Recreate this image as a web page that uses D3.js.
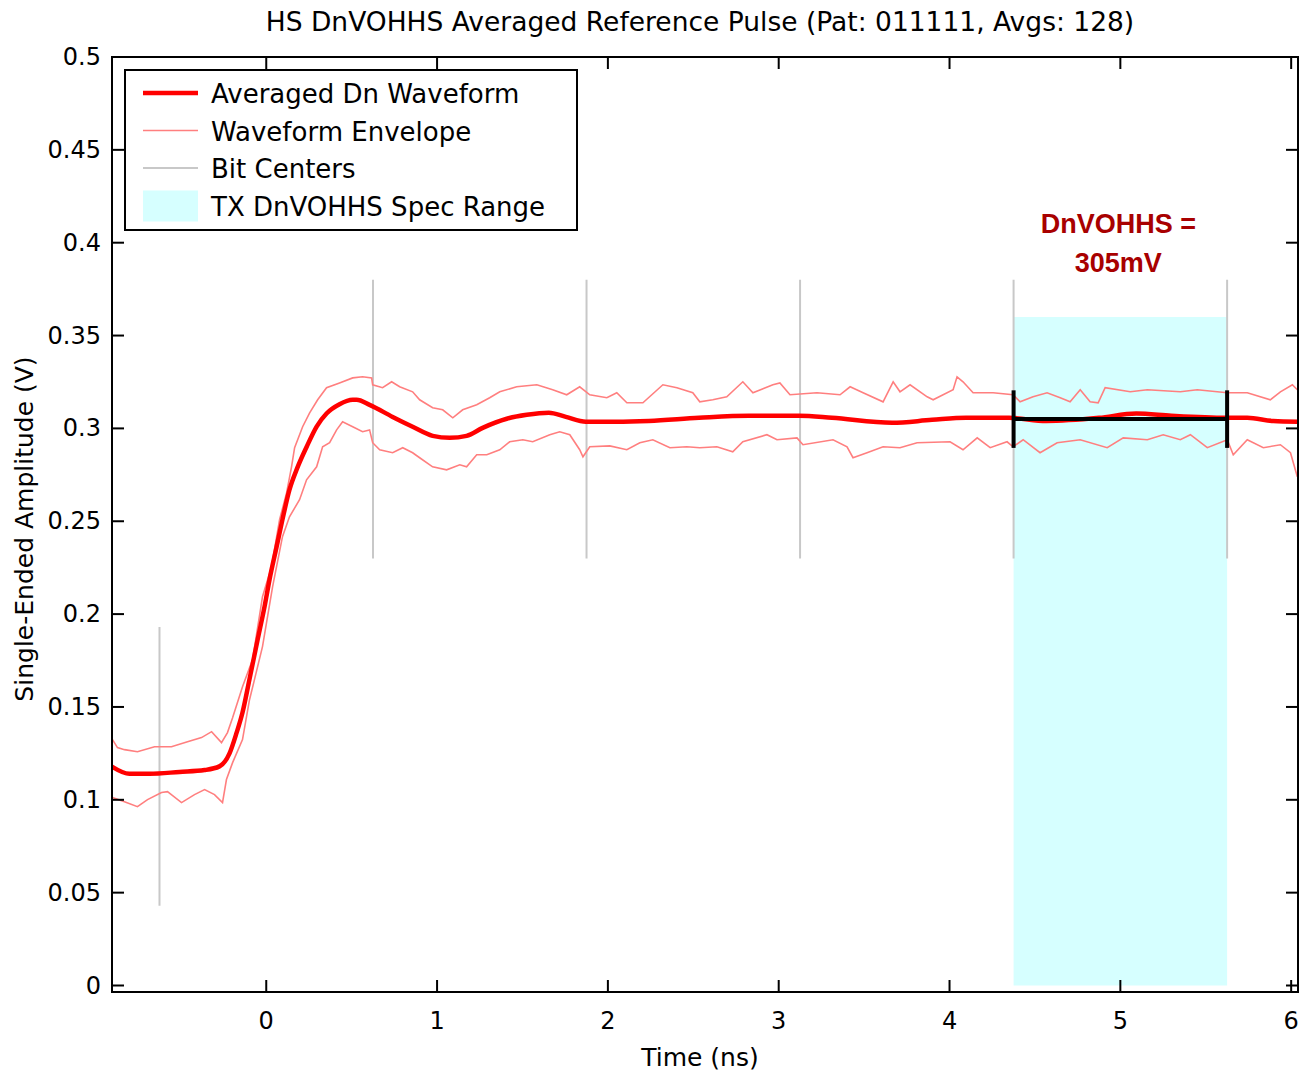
<!DOCTYPE html>
<html>
<head>
<meta charset="utf-8">
<script src="https://cdn.jsdelivr.net/npm/d3@7/dist/d3.min.js"></script>
<style>
  html, body { margin: 0; padding: 0; background: #fff; }
  svg { display: block; }
  text { font-family: "DejaVu Sans", sans-serif; fill: #000; }
</style>
</head>
<body>
<svg id="chart" width="1307" height="1076"></svg>
<script>
// ---- data -------------------------------------------------------------
const titleText = "HS DnVOHHS Averaged Reference Pulse (Pat: 011111, Avgs: 128)";
const xLabel = "Time (ns)";
const yLabel = "Single-Ended Amplitude (V)";

const xTicks = [0, 1, 2, 3, 4, 5, 6];
const yTicks = [0, 0.05, 0.1, 0.15, 0.2, 0.25, 0.3, 0.35, 0.4, 0.45, 0.5];
const yTickLabels = ["0", "0.05", "0.1", "0.15", "0.2", "0.25", "0.3", "0.35", "0.4", "0.45", "0.5"];

// averaged waveform [time ns, volts]
const avgWave = [
  [-0.906, 0.118], [-0.801, 0.114], [-0.684, 0.114], [-0.508, 0.115], [-0.361, 0.116],
  [-0.274, 0.118], [-0.215, 0.125], [-0.174, 0.136], [-0.139, 0.147], [-0.098, 0.165],
  [-0.051, 0.186], [-0.010, 0.204], [0.019, 0.2185], [0.060, 0.236], [0.095, 0.251],
  [0.136, 0.267], [0.183, 0.279], [0.236, 0.290], [0.295, 0.301], [0.353, 0.308],
  [0.429, 0.313], [0.506, 0.3154], [0.529, 0.3154], [0.605, 0.3127], [0.740, 0.3062],
  [0.857, 0.3009], [0.974, 0.296], [1.074, 0.2949], [1.173, 0.296], [1.267, 0.3003],
  [1.408, 0.3052], [1.525, 0.3073], [1.654, 0.3084], [1.754, 0.3062], [1.871, 0.3036],
  [2.047, 0.3036], [2.240, 0.3040], [2.533, 0.3057], [2.826, 0.3068], [3.119, 0.3068],
  [3.312, 0.3057], [3.664, 0.3030], [3.898, 0.3046], [4.097, 0.3057], [4.349, 0.3057],
  [4.566, 0.3040], [4.876, 0.3057], [5.093, 0.3080], [5.298, 0.3068], [5.620, 0.3057],
  [5.743, 0.3057], [5.895, 0.3040], [6.036, 0.3036]
];

// upper edge of the waveform envelope
const envUpper = [
  [-0.900, 0.1324], [-0.871, 0.1281], [-0.830, 0.1270], [-0.754, 0.1259], [-0.654, 0.1286],
  [-0.555, 0.1286], [-0.461, 0.1313], [-0.379, 0.1335], [-0.320, 0.1367], [-0.262, 0.1308],
  [-0.227, 0.1362], [-0.197, 0.1442], [-0.139, 0.1609], [-0.080, 0.1755], [-0.022, 0.2094],
  [0.031, 0.2255], [0.078, 0.2508], [0.119, 0.2653], [0.148, 0.2793], [0.166, 0.2896],
  [0.213, 0.3009], [0.254, 0.3084], [0.301, 0.3154], [0.353, 0.3219], [0.429, 0.3245],
  [0.506, 0.3272], [0.564, 0.3278], [0.617, 0.3272], [0.623, 0.3235], [0.681, 0.3219],
  [0.734, 0.3251], [0.781, 0.3224], [0.857, 0.3197], [0.898, 0.3154], [0.974, 0.3111],
  [1.033, 0.3100], [1.092, 0.3057], [1.150, 0.3100], [1.232, 0.3127], [1.308, 0.3165],
  [1.367, 0.3197], [1.466, 0.3224], [1.584, 0.3235], [1.677, 0.3208], [1.759, 0.3181],
  [1.835, 0.3224], [1.894, 0.3181], [1.994, 0.3165], [2.052, 0.3192], [2.111, 0.3138],
  [2.205, 0.3138], [2.322, 0.3235], [2.404, 0.3219], [2.497, 0.3192], [2.538, 0.3143],
  [2.614, 0.3154], [2.696, 0.3170], [2.790, 0.3251], [2.849, 0.3192], [2.966, 0.3235],
  [3.007, 0.3245], [3.066, 0.3181], [3.224, 0.3192], [3.359, 0.3181], [3.418, 0.3224],
  [3.494, 0.3192], [3.611, 0.3143], [3.670, 0.3251], [3.710, 0.3197], [3.769, 0.3235],
  [3.869, 0.3170], [3.904, 0.3154], [4.021, 0.3208], [4.044, 0.3278], [4.079, 0.3251],
  [4.138, 0.3192], [4.255, 0.3192], [4.372, 0.3181], [4.413, 0.3143], [4.489, 0.3170],
  [4.571, 0.3192], [4.648, 0.3165], [4.706, 0.3143], [4.765, 0.3208], [4.823, 0.3143],
  [4.870, 0.3138], [4.911, 0.3219], [5.058, 0.3197], [5.158, 0.3208], [5.351, 0.3197],
  [5.450, 0.3208], [5.626, 0.3192], [5.743, 0.3192], [5.878, 0.3154], [5.937, 0.3197],
  [6.007, 0.3235], [6.036, 0.3208]
];

// lower edge of the waveform envelope
const envLower = [
  [-0.900, 0.1012], [-0.830, 0.0990], [-0.754, 0.0963], [-0.695, 0.1001], [-0.613, 0.1039],
  [-0.578, 0.1044], [-0.496, 0.0985], [-0.420, 0.1028], [-0.361, 0.1055], [-0.303, 0.1028],
  [-0.256, 0.0985], [-0.233, 0.1109], [-0.197, 0.1200], [-0.139, 0.1324], [-0.098, 0.1539],
  [-0.069, 0.1647], [-0.022, 0.1825], [0.037, 0.2147], [0.095, 0.2417], [0.136, 0.2524],
  [0.195, 0.2616], [0.236, 0.2723], [0.295, 0.2793], [0.330, 0.2901], [0.371, 0.2923],
  [0.412, 0.2992], [0.447, 0.3036], [0.506, 0.3009], [0.564, 0.2982], [0.605, 0.2992],
  [0.623, 0.2923], [0.664, 0.2885], [0.740, 0.2869], [0.799, 0.2896], [0.857, 0.2869],
  [0.898, 0.2842], [0.974, 0.2793], [1.056, 0.2777], [1.133, 0.2804], [1.173, 0.2793],
  [1.232, 0.2858], [1.291, 0.2858], [1.367, 0.2885], [1.425, 0.2928], [1.502, 0.2939],
  [1.560, 0.2928], [1.660, 0.2966], [1.718, 0.2982], [1.777, 0.2966], [1.835, 0.2885],
  [1.854, 0.2847], [1.894, 0.2901], [2.011, 0.2906], [2.111, 0.2885], [2.187, 0.2923],
  [2.263, 0.2939], [2.363, 0.2896], [2.462, 0.2901], [2.538, 0.2896], [2.638, 0.2901],
  [2.731, 0.2874], [2.790, 0.2928], [2.931, 0.2966], [2.990, 0.2939], [3.107, 0.2949],
  [3.142, 0.2912], [3.318, 0.2939], [3.400, 0.2901], [3.435, 0.2842], [3.517, 0.2869],
  [3.611, 0.2901], [3.710, 0.2896], [3.810, 0.2923], [4.003, 0.2928], [4.079, 0.2885],
  [4.162, 0.2949], [4.238, 0.2896], [4.337, 0.2928], [4.372, 0.2901], [4.431, 0.2939],
  [4.530, 0.2869], [4.630, 0.2923], [4.765, 0.2939], [4.923, 0.2896], [5.017, 0.2949],
  [5.158, 0.2939], [5.251, 0.2966], [5.351, 0.2939], [5.410, 0.2966], [5.509, 0.2896],
  [5.626, 0.2939], [5.661, 0.2858], [5.743, 0.2939], [5.837, 0.2896], [5.937, 0.2912],
  [5.996, 0.2869], [6.036, 0.2740]
];

// bit-center markers: time, level, half-height
const bitCenterT = [-0.625, 0.625, 1.875, 3.125, 4.375, 5.625];
const bitCenterV = [0.118, 0.305, 0.305, 0.305, 0.305, 0.305];
const bitCenterHalf = 0.075;

// spec range window and measured level
const specT = [4.375, 5.625];
const specV = [0, 0.36];
const measuredV = 0.305;
const measureCapHalf = 0.0155;
const measureLabel = ["DnVOHHS =", "305mV"];

const legendItems = [
  { label: "Averaged Dn Waveform", kind: "main" },
  { label: "Waveform Envelope", kind: "env" },
  { label: "Bit Centers", kind: "bit" },
  { label: "TX DnVOHHS Spec Range", kind: "spec" }
];

// ---- layout -------------------------------------------------------------
const plot = { left: 112, right: 1298, top: 57, bottom: 992 };
const colors = {
  main: "#ff0000", env: "#ff7f7f", bit: "#c8c8c8",
  spec: "#d6ffff", measure: "#000000", label: "#a80000"
};

const svg = d3.select("#chart");
const x = d3.scaleLinear().domain([-0.903, 6.04]).range([plot.left, plot.right]);
const y = d3.scaleLinear().domain([-0.0035, 0.5]).range([plot.bottom, plot.top]);

svg.append("defs").append("clipPath").attr("id", "clip")
  .append("rect")
  .attr("x", plot.left).attr("y", plot.top)
  .attr("width", plot.right - plot.left).attr("height", plot.bottom - plot.top);

const g = svg.append("g").attr("clip-path", "url(#clip)");

// spec window
g.append("rect")
  .attr("x", x(specT[0])).attr("width", x(specT[1]) - x(specT[0]))
  .attr("y", y(specV[1])).attr("height", y(specV[0]) - y(specV[1]))
  .attr("fill", colors.spec);

// bit centers
g.selectAll("line.bit").data(bitCenterT).join("line")
  .attr("class", "bit")
  .attr("x1", d => x(d)).attr("x2", d => x(d))
  .attr("y1", (d, i) => y(bitCenterV[i] + bitCenterHalf))
  .attr("y2", (d, i) => y(bitCenterV[i] - bitCenterHalf))
  .attr("stroke", colors.bit).attr("stroke-width", 2);

const line = d3.line().x(d => x(d[0])).y(d => y(d[1]));

// envelope
[envUpper, envLower].forEach(env => {
  g.append("path").attr("d", line(env))
    .attr("fill", "none").attr("stroke", colors.env).attr("stroke-width", 1.6)
    .attr("stroke-linejoin", "miter");
});

// averaged waveform
g.append("path").attr("d", line.curve(d3.curveMonotoneX)(avgWave))
  .attr("fill", "none").attr("stroke", colors.main).attr("stroke-width", 4.5);

// measured level bar with end caps
const mg = g.append("g").attr("stroke", colors.measure).attr("stroke-width", 4);
mg.append("line")
  .attr("x1", x(specT[0])).attr("x2", x(specT[1]))
  .attr("y1", y(measuredV)).attr("y2", y(measuredV));
specT.forEach(t => {
  mg.append("line")
    .attr("x1", x(t)).attr("x2", x(t))
    .attr("y1", y(measuredV + measureCapHalf)).attr("y2", y(measuredV - measureCapHalf));
});

// measurement label
const midT = (specT[0] + specT[1]) / 2;
svg.selectAll("text.meas").data(measureLabel).join("text")
  .attr("class", "meas")
  .attr("x", x(midT) - 2)
  .attr("y", (d, i) => 233 + i * 39)
  .attr("text-anchor", "middle")
  .style("font-family", "'Liberation Sans', Arial, sans-serif")
  .style("font-weight", "bold").style("font-size", "27px")
  .style("fill", colors.label)
  .text(d => d);

// ---- axes box -------------------------------------------------------------
const tickLen = 12;
const axisG = svg.append("g");
axisG.append("rect")
  .attr("x", plot.left).attr("y", plot.top)
  .attr("width", plot.right - plot.left).attr("height", plot.bottom - plot.top)
  .attr("fill", "none").attr("stroke", "#000").attr("stroke-width", 2);

xTicks.forEach(t => {
  axisG.append("line").attr("x1", x(t)).attr("x2", x(t))
    .attr("y1", plot.bottom).attr("y2", plot.bottom - tickLen)
    .attr("stroke", "#000").attr("stroke-width", 2);
  axisG.append("line").attr("x1", x(t)).attr("x2", x(t))
    .attr("y1", plot.top).attr("y2", plot.top + tickLen)
    .attr("stroke", "#000").attr("stroke-width", 2);
});
yTicks.forEach(v => {
  axisG.append("line").attr("x1", plot.left).attr("x2", plot.left + tickLen)
    .attr("y1", y(v)).attr("y2", y(v))
    .attr("stroke", "#000").attr("stroke-width", 2);
  axisG.append("line").attr("x1", plot.right).attr("x2", plot.right - tickLen)
    .attr("y1", y(v)).attr("y2", y(v))
    .attr("stroke", "#000").attr("stroke-width", 2);
});

svg.selectAll("text.xt").data(xTicks).join("text")
  .attr("class", "xt")
  .attr("x", d => x(d)).attr("y", plot.bottom + 37)
  .attr("text-anchor", "middle").style("font-size", "24px")
  .text(d => d3.format("d")(d));

svg.selectAll("text.yt").data(yTicks).join("text")
  .attr("class", "yt")
  .attr("x", plot.left - 11).attr("y", d => y(d) + 8)
  .attr("text-anchor", "end").style("font-size", "24px")
  .text((d, i) => yTickLabels[i]);

svg.append("text")
  .attr("x", 700).attr("y", 31)
  .attr("text-anchor", "middle").style("font-size", "26.5px")
  .text(titleText);

svg.append("text")
  .attr("x", 700).attr("y", 1066)
  .attr("text-anchor", "middle").style("font-size", "25px")
  .text(xLabel);

svg.append("text")
  .attr("transform", "translate(33,529) rotate(-90)")
  .attr("text-anchor", "middle").style("font-size", "25px")
  .text(yLabel);

// ---- legend -------------------------------------------------------------
const lg = svg.append("g");
lg.append("rect")
  .attr("x", 125).attr("y", 70).attr("width", 452).attr("height", 160)
  .attr("fill", "#fff").attr("stroke", "#000").attr("stroke-width", 2);

legendItems.forEach((item, i) => {
  const cy = 93 + i * 37.5;
  if (item.kind === "spec") {
    lg.append("rect").attr("x", 143).attr("y", cy - 15).attr("width", 55).attr("height", 31)
      .attr("fill", colors.spec);
  } else {
    lg.append("line").attr("x1", 143).attr("x2", 198).attr("y1", cy).attr("y2", cy)
      .attr("stroke", colors[item.kind])
      .attr("stroke-width", item.kind === "main" ? 4.5 : (item.kind === "bit" ? 2 : 1.6));
  }
  lg.append("text").attr("x", 211).attr("y", cy + 10)
    .style("font-size", "26px").text(item.label);
});
</script>
</body>
</html>
